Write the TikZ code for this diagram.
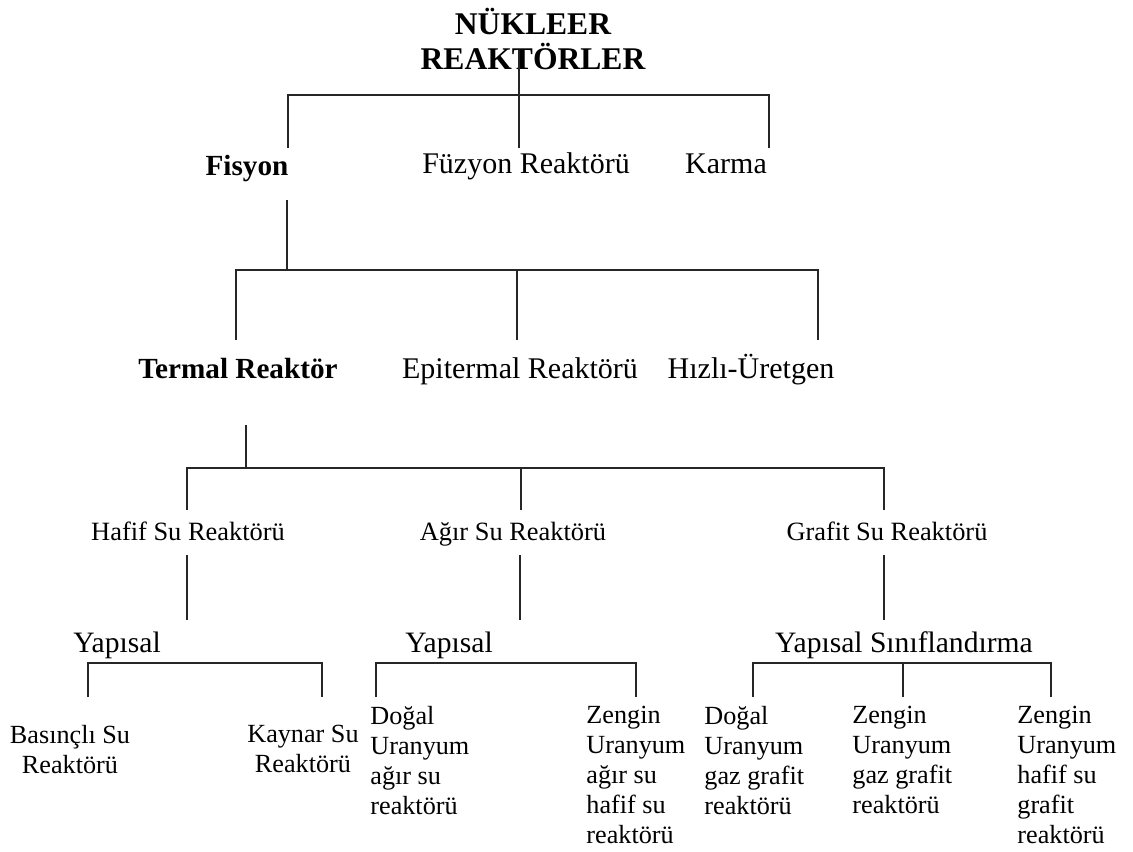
\documentclass[tikz,border=0pt]{standalone}
\usepackage{fontspec}
\setmainfont{Liberation Serif}
\usepackage{tikz}
\usetikzlibrary{positioning}

\begin{document}
\begin{tikzpicture}[x=0.5pt, y=-0.5pt,
  lvl/.style={font=\fontsize{15}{18}\selectfont, inner sep=0pt, anchor=base},
  bld/.style={lvl, font=\bfseries\fontsize{14.6}{18}\selectfont},
  sub/.style={font=\fontsize{13.2}{16}\selectfont, inner sep=0pt, anchor=base},
  yap/.style={font=\fontsize{14.8}{18}\selectfont, inner sep=0pt, anchor=base},
  leaf/.style={font=\fontsize{13.1}{15}\selectfont, inner sep=0pt, align=left, anchor=north west},
  cleaf/.style={leaf, align=center, anchor=north},
  link/.style={line width=0.9pt, draw=black!85}
]
  \useasboundingbox (0,0) rectangle (1133,851);

  % Nodes
  \node[bld, font=\bfseries\fontsize{15.8}{17.6}\selectfont, align=center, anchor=north] (root) at (533,8) {NÜKLEER\\REAKTÖRLER};

  \node[bld] (fis) at (247,175) {Fisyon};
  \node[lvl] (fuz) at (526,173) {Füzyon Reaktörü};
  \node[lvl] (kar) at (726,173) {Karma};

  \node[bld] (ter) at (238,378) {Termal Reaktör};
  \node[lvl] (epi) at (520,378) {Epitermal Reaktörü};
  \node[lvl] (hiz) at (751,378) {Hızlı-Üretgen};

  \node[sub] (haf) at (188,540) {Hafif Su Reaktörü};
  \node[sub] (agr) at (513,540) {Ağır Su Reaktörü};
  \node[sub] (gra) at (887,540) {Grafit Su Reaktörü};

  \node[yap] (yap1) at (117,652) {Yapısal};
  \node[yap] (yap2) at (449,652) {Yapısal};
  \node[yap] (yap3) at (904,652) {Yapısal Sınıflandırma};

  \node[cleaf] (bas) at (70,725) {Basınçlı Su\\Reaktörü};
  \node[cleaf] (kay) at (303,725) {Kaynar Su\\Reaktörü};
  \node[leaf] (dau) at (370,706) {Doğal\\Uranyum\\ağır su\\reaktörü};
  \node[leaf] (zau) at (586,706) {Zengin\\Uranyum\\ağır su\\hafif su\\reaktörü};
  \node[leaf] (dgg) at (704,706) {Doğal\\Uranyum\\gaz grafit\\reaktörü};
  \node[leaf] (zgg) at (852,706) {Zengin\\Uranyum\\gaz grafit\\reaktörü};
  \node[leaf] (zhg) at (1017,706) {Zengin\\Uranyum\\hafif su\\grafit\\reaktörü};

  % Drop points
  \coordinate (j-root) at (519,95);
  \coordinate (d-fis) at (288,148);
  \coordinate (d-fuz) at (519,148);
  \coordinate (d-kar) at (769,148);

  \coordinate (j-fis) at (287,270);
  \coordinate (d-ter) at (236,340);
  \coordinate (d-epi) at (517,340);
  \coordinate (d-hiz) at (818,340);

  \coordinate (j-ter) at (246,468);
  \coordinate (d-haf) at (187,510);
  \coordinate (d-agr) at (521,510);
  \coordinate (d-gra) at (884,510);

  \coordinate (y-haf) at (187,620);
  \coordinate (y-agr) at (520,620);
  \coordinate (y-gra) at (884,620);

  \coordinate (d-bas) at (88,697);
  \coordinate (d-kay) at (322,697);
  \coordinate (d-dau) at (376,697);
  \coordinate (d-zau) at (636,697);
  \coordinate (d-dgg) at (753,697);
  \coordinate (d-zgg) at (903,697);
  \coordinate (d-zhg) at (1051,697);

  % Paths
  \draw[link] (j-root |- 0,50) -- (j-root);
  \draw[link] (d-fis) |- (j-root) -| (d-kar);
  \draw[link] (j-root) -- (d-fuz);

  \draw[link] (j-fis |- 0,200) -- (j-fis);
  \draw[link] (d-ter) |- (j-fis) -| (d-hiz);
  \draw[link] (d-epi) -- (d-epi |- j-fis);

  \draw[link] (j-ter |- 0,425) -- (j-ter);
  \draw[link] (d-haf) |- (j-ter) -| (d-gra);
  \draw[link] (d-agr) -- (d-agr |- j-ter);

  \foreach \c in {haf,agr,gra}
    \draw[link] (y-\c |- 0,555) -- (y-\c);

  \draw[link] (d-bas) |- (0,663 -| d-kay) -- (d-kay);
  \draw[link] (d-dau) |- (0,663 -| d-zau) -- (d-zau);
  \draw[link] (d-dgg) |- (0,663 -| d-zhg) -- (d-zhg);
  \draw[link] (d-zgg) -- (d-zgg |- 0,663);
\end{tikzpicture}
\end{document}
